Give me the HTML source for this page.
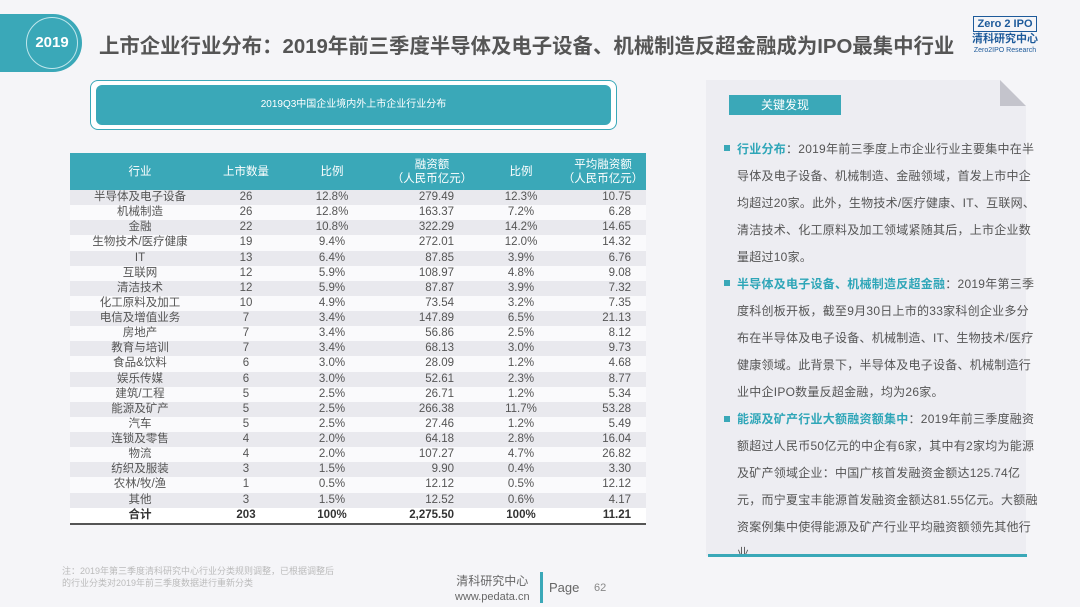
<!DOCTYPE html>
<html><head><meta charset="utf-8">
<style>
*{margin:0;padding:0;box-sizing:border-box}
body{width:1080px;height:607px;background:#f5f5f8;font-family:"Liberation Sans","Noto Sans CJK SC",sans-serif;position:relative;overflow:hidden;color:#444}
.abs{position:absolute}
.line{position:absolute;left:737px;font-size:12px;color:#555;white-space:nowrap;letter-spacing:0.25px}
.hl{color:#2fa6b8;font-weight:bold}
.bul{position:absolute;left:724px;width:6px;height:6px;background:#3aa8b8}
td{font-size:11.5px;color:#555;height:15.14px;padding:0;line-height:15px;white-space:nowrap}
</style></head><body>
<div class="abs" style="left:0;top:14px;width:82px;height:58px;background:#3aa8b8;border-radius:0 30px 30px 0"></div>
<div class="abs" style="left:26px;top:17px;width:52px;height:52px;border:1px solid #bfe6ec;border-radius:50%;color:#fff;font-weight:bold;font-size:15px;line-height:50px;text-align:center">2019</div>
<div class="abs" style="left:99px;top:29px;font-size:20.4px;font-weight:bold;color:#555;white-space:nowrap">上市企业行业分布：2019年前三季度半导体及电子设备、机械制造反超金融成为IPO最集中行业</div>
<div class="abs" style="left:965px;top:14px;width:80px;text-align:center">
<div style="display:inline-block;border:1px solid #1d5a9a;color:#1d5a9a;font-size:11px;font-weight:bold;padding:0 3px;line-height:14px">Zero 2 IPO</div>
<div style="color:#1d5a9a;font-size:11px;font-weight:bold;line-height:14px">清科研究中心</div>
<div style="color:#1d5a9a;font-size:7px;line-height:9px">Zero2IPO Research</div></div>

<div class="abs" style="left:90px;top:80px;width:527px;height:50px;border:1.5px solid #3aa8b8;border-radius:8px;background:#fff"></div>
<div class="abs" style="left:96px;top:85px;width:515px;height:40px;background:#3aa8b8;border-radius:6px;color:#fff;font-size:10px;line-height:40px;text-align:center">2019Q3中国企业境内外上市企业行业分布</div>

<table id="tbl" class="abs" style="left:70px;top:153px;width:576px;border-collapse:collapse">
<colgroup><col style="width:140px"><col style="width:72px"><col style="width:100px"><col style="width:100px"><col style="width:78px"><col style="width:86px"></colgroup>
<thead><tr style="background:#3aa8b8;height:37px">
<td style="color:#fff;text-align:center;line-height:14px">行业</td><td style="color:#fff;text-align:center;line-height:14px">上市数量</td><td style="color:#fff;text-align:center;line-height:14px">比例</td><td style="color:#fff;text-align:center;line-height:14px">融资额<br>（人民币亿元）</td><td style="color:#fff;text-align:center;line-height:14px">比例</td><td style="color:#fff;text-align:center;line-height:14px">平均融资额<br>（人民币亿元）</td></tr></thead>
<tbody id="tb"></tbody></table>

<div class="abs" style="left:706px;top:80px;width:320px;height:476px;background:#ededf2"></div>
<div class="abs" style="left:1000px;top:80px;width:0;height:0;border-top:26px solid #f5f5f8;border-left:26px solid #c4c4cc"></div>
<div class="abs" style="left:708px;top:554px;width:319px;height:3px;background:#3aa8b8"></div>
<div class="abs" style="left:729px;top:95px;width:112px;height:20px;background:#3aa8b8;color:#fff;font-size:12px;line-height:20px;text-align:center">关键发现</div>

<div class="bul" style="top:145px"></div>
<div class="line" style="top:140px"><span class="hl">行业分布</span>：2019年前三季度上市企业行业主要集中在半</div>
<div class="line" style="top:167px">导体及电子设备、机械制造、金融领域，首发上市中企</div>
<div class="line" style="top:194px">均超过20家。此外，生物技术/医疗健康、IT、互联网、</div>
<div class="line" style="top:221px">清洁技术、化工原料及加工领域紧随其后，上市企业数</div>
<div class="line" style="top:248px">量超过10家。</div>
<div class="bul" style="top:280px"></div>
<div class="line" style="top:275px"><span class="hl">半导体及电子设备、机械制造反超金融</span>：2019年第三季</div>
<div class="line" style="top:302px">度科创板开板，截至9月30日上市的33家科创企业多分</div>
<div class="line" style="top:329px">布在半导体及电子设备、机械制造、IT、生物技术/医疗</div>
<div class="line" style="top:356px">健康领域。此背景下，半导体及电子设备、机械制造行</div>
<div class="line" style="top:383px">业中企IPO数量反超金融，均为26家。</div>
<div class="bul" style="top:416px"></div>
<div class="line" style="top:410px"><span class="hl">能源及矿产行业大额融资额集中</span>：2019年前三季度融资</div>
<div class="line" style="top:437px">额超过人民币50亿元的中企有6家，其中有2家均为能源</div>
<div class="line" style="top:464px">及矿产领域企业：中国广核首发融资金额达125.74亿</div>
<div class="line" style="top:491px">元，而宁夏宝丰能源首发融资金额达81.55亿元。大额融</div>
<div class="line" style="top:518px">资案例集中使得能源及矿产行业平均融资额领先其他行</div>
<div class="line" style="top:544px;height:10px;overflow:hidden">业</div>

<div class="abs" style="left:62px;top:565px;font-size:9px;line-height:12px;color:#bbb;width:275px">注：2019年第三季度清科研究中心行业分类规则调整，已根据调整后的行业分类对2019年前三季度数据进行重新分类</div>
<div class="abs" style="left:455px;top:574px;font-size:12px;color:#666;line-height:15px;text-align:center">清科研究中心<br><span style="font-size:11px">www.pedata.cn</span></div>
<div class="abs" style="left:540px;top:572px;width:3px;height:31px;background:#3aa8b8"></div>
<div class="abs" style="left:549px;top:580px;font-size:13px;color:#666">Page</div>
<div class="abs" style="left:594px;top:582px;font-size:11px;color:#888">62</div>

<script>
const industries=["半导体及电子设备","机械制造","金融","生物技术/医疗健康","IT","互联网","清洁技术","化工原料及加工","电信及增值业务","房地产","教育与培训","食品&饮料","娱乐传媒","建筑/工程","能源及矿产","汽车","连锁及零售","物流","纺织及服装","农林/牧/渔","其他","合计"];
const counts=["26","26","22","19","13","12","12","10","7","7","7","6","6","5","5","5","4","4","3","1","3","203"];
const countShare=["12.8%","12.8%","10.8%","9.4%","6.4%","5.9%","5.9%","4.9%","3.4%","3.4%","3.4%","3.0%","3.0%","2.5%","2.5%","2.5%","2.0%","2.0%","1.5%","0.5%","1.5%","100%"];
const amounts=["279.49","163.37","322.29","272.01","87.85","108.97","87.87","73.54","147.89","56.86","68.13","28.09","52.61","26.71","266.38","27.46","64.18","107.27","9.90","12.12","12.52","2,275.50"];
const amountShare=["12.3%","7.2%","14.2%","12.0%","3.9%","4.8%","3.9%","3.2%","6.5%","2.5%","3.0%","1.2%","2.3%","1.2%","11.7%","1.2%","2.8%","4.7%","0.4%","0.5%","0.6%","100%"];
const avgAmounts=["10.75","6.28","14.65","14.32","6.76","9.08","7.32","7.35","21.13","8.12","9.73","4.68","8.77","5.34","53.28","5.49","16.04","26.82","3.30","12.12","4.17","11.21"];
const tb=document.getElementById('tb');
industries.forEach((name,i)=>{
  const tr=document.createElement('tr');
  
  
  const total=i===industries.length-1;
  tr.style.background=total?'#fff':(i%2===0?'#e9e9ee':'#fafafc');
  if(total){tr.style.borderBottom='2px solid #555';tr.style.fontWeight='bold';}
  const vals=[name,counts[i],countShare[i],amounts[i],amountShare[i],avgAmounts[i]];
  const aligns=['center','center','center','right','center','right'];
  vals.forEach((v,j)=>{
    const td=document.createElement('td');
    
    
    td.textContent=v;
    td.style.textAlign=aligns[j];
    if(aligns[j]==='right')td.style.paddingRight=(j===3?'28px':'15px');
    if(total){td.style.fontWeight='bold';td.style.color='#333';}
    tr.appendChild(td);
  });
  tb.appendChild(tr);
});
</script>
</body></html>
